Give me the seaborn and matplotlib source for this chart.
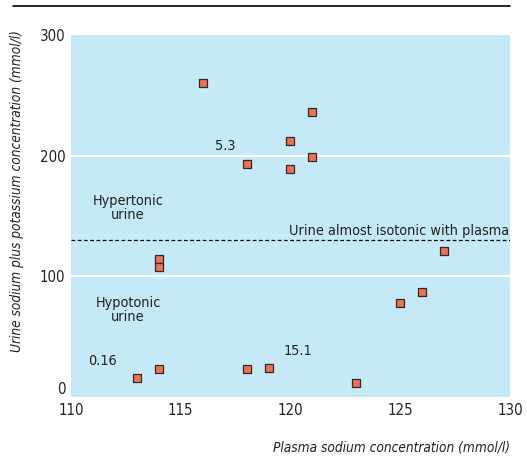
import matplotlib
matplotlib.use("Agg")
import matplotlib.pyplot as plt
import seaborn as sns
import pandas as pd

# values
plasma_sodium = [116, 121, 120, 121, 118, 120, 114, 114, 127, 126, 125, 113, 114, 118, 119, 123]
urine_na_k = [260, 236, 212, 199, 193, 189, 114, 108, 121, 87, 78, 16, 23, 23, 24, 12]
x_ticks = [110, 115, 120, 125, 130]
y_ticks = [0, 100, 200, 300]
isotonic_level = 130

sns.set_style("white")
plt.rcParams["font.family"] = ["DejaVu Sans"]
plt.rcParams["font.stretch"] = "condensed"  # picks DejaVu Sans Condensed

df = pd.DataFrame({"sodium": plasma_sodium, "urine": urine_na_k})

fig = plt.figure(figsize=(5.27, 4.57), dpi=100)
ax = fig.add_axes([0.1347, 0.1313, 0.833, 0.792])
ax.set_facecolor("#c6e9f8")

for y in [100, 200]:
    ax.axhline(y, color="white", lw=1.5, zorder=1)
ax.axhline(isotonic_level, color="black", lw=0.9, ls=(0, (3, 2)), zorder=2)

sns.scatterplot(x="sodium", y="urine", data=df, marker="s", s=36,
                color="#f36f4f", edgecolor="#2b2b2b", linewidth=0.9,
                ax=ax, zorder=3)

ax.set_xlim(110, 130)
ax.set_ylim(0, 300)
ax.set_xticks(x_ticks)
ax.set_yticks(y_ticks)
ax.tick_params(axis="x", direction="in", length=6, width=1.5, color="white",
               labelsize=10.8, pad=4, labelcolor="#222222")
ax.tick_params(axis="y", length=0, labelsize=10.8, pad=4, labelcolor="#222222")
ax.get_yticklabels()[0].set_verticalalignment("bottom")
for s in ax.spines.values():
    s.set_visible(False)
ax.set_xlabel("")
ax.set_ylabel("")

txt = dict(fontsize=10.4, color="#222222")
ax.text(112.6, 157, "Hypertonic\nurine", ha="center", va="center", linespacing=1.0, **txt)
ax.text(112.6, 72, "Hypotonic\nurine", ha="center", va="center", linespacing=1.0, **txt)
ax.text(111.45, 30, "0.16", ha="center", va="center", **txt)
ax.text(120.35, 38, "15.1", ha="center", va="center", **txt)
ax.text(117.05, 208, "5.3", ha="center", va="center", **txt)
ax.text(129.95, 131.5, "Urine almost isotonic with plasma", ha="right", va="bottom", **txt)

lab = dict(fontsize=9.8, color="#222222", style="italic")
fig.text(0.032, 0.935, "Urine sodium plus potassium concentration (mmol/l)",
         rotation=90, ha="center", va="top", **lab)
fig.text(0.968, 0.02, "Plasma sodium concentration (mmol/l)",
         ha="right", va="center", **lab)

fig.add_artist(plt.Line2D([0.025, 0.968], [0.987, 0.987], color="black", lw=1.2,
                          transform=fig.transFigure))

fig.savefig("out.png", dpi=100)
